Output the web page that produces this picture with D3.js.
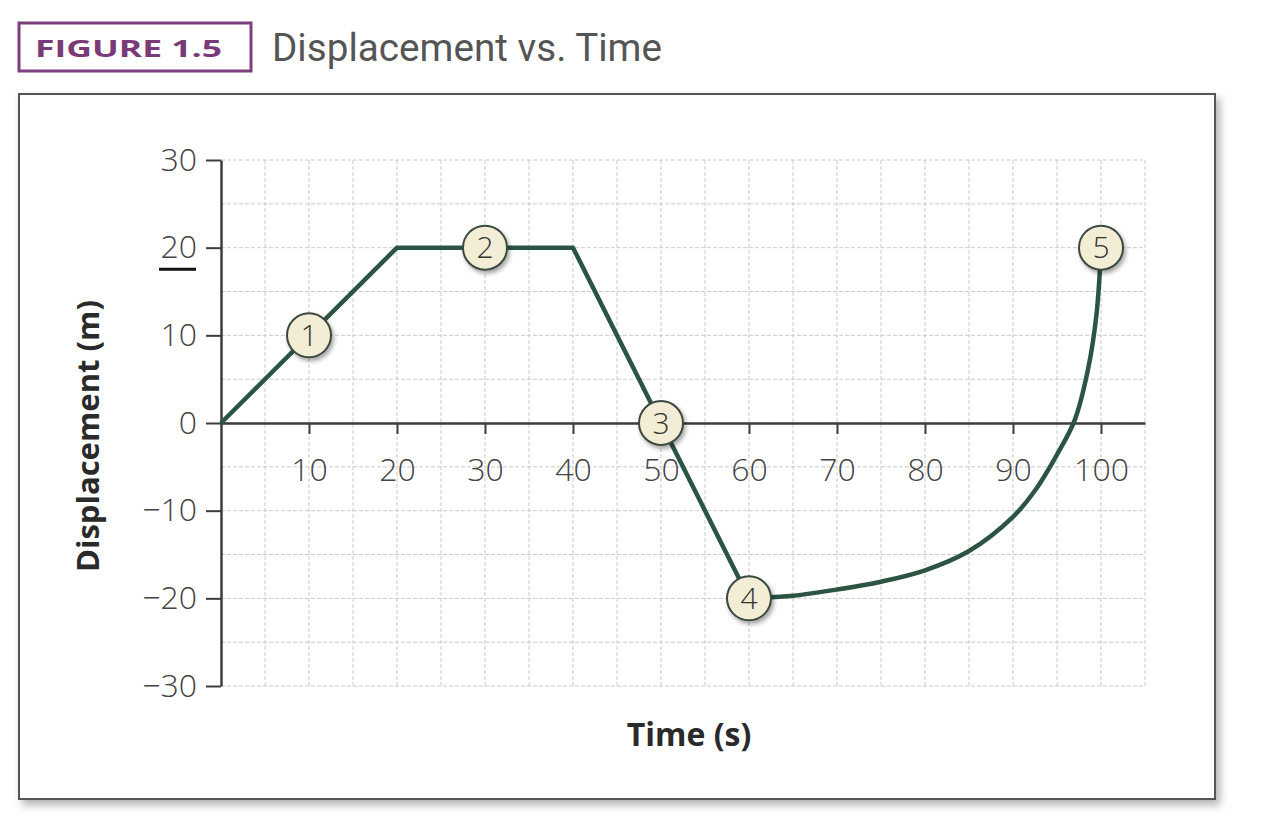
<!DOCTYPE html>
<html lang="en">
<head>
<meta charset="UTF-8">
<title>Displacement vs. Time</title>
<script src="https://cdn.jsdelivr.net/npm/d3@7"></script>
<style>
  body { margin: 0; background: #fff; }
  text { font-family: "Open Sans", "DejaVu Sans", sans-serif; }
</style>
</head>
<body>
<div id="chart"></div>
<script>
// straight segments of the graph
const segTimes = [0, 20, 40, 60];
const segDisp = [0, 20, 20, -20];
// curved part from point 4 to point 5
const curveTimes = [60, 65, 70, 75, 80, 85, 90, 92.5, 95, 97, 98.5, 99.5, 100];
const curveDisp = [-20, -19.7, -19, -18.1, -16.8, -14.6, -10.7, -7.7, -3.6, 0.3, 6, 12.5, 20];
// numbered markers
const markerTimes = [10, 30, 50, 60, 100];
const markerDisp = [10, 20, 0, -20, 20];
const markerLabels = ["1", "2", "3", "4", "5"];
// ticks
const xTicks = [10, 20, 30, 40, 50, 60, 70, 80, 90, 100];
const yTicks = [-30, -20, -10, 0, 10, 20, 30];

const W = 1262, H = 837;
const lineColor = '#2c5443';
const axisColor = '#3d3d3d';

const svg = d3.select('#chart').append('svg')
    .attr('width', W)
    .attr('height', H);

const defs = svg.append('defs');
defs.append('filter').attr('id', 'frameShadow')
    .attr('x', '-5%').attr('y', '-5%').attr('width', '110%').attr('height', '115%')
    .append('feDropShadow')
    .attr('dx', 4).attr('dy', 5).attr('stdDeviation', 4)
    .attr('flood-color', '#000').attr('flood-opacity', 0.3);
defs.append('filter').attr('id', 'dotShadow')
    .attr('x', '-50%').attr('y', '-50%').attr('width', '200%').attr('height', '200%')
    .append('feDropShadow')
    .attr('dx', 2).attr('dy', 3).attr('stdDeviation', 2)
    .attr('flood-color', '#000').attr('flood-opacity', 0.35);

// header
svg.append('rect')
    .attr('x', 19).attr('y', 23).attr('width', 232).attr('height', 48)
    .attr('fill', '#fff').attr('stroke', '#7d3f7c').attr('stroke-width', 3);
svg.append('text')
    .attr('x', 35).attr('y', 57)
    .attr('fill', '#7a3a77')
    .attr('textLength', 187).attr('lengthAdjust', 'spacingAndGlyphs')
    .style('font-size', '24px').style('font-weight', 'bold')
    .text('FIGURE 1.5');
svg.append('text')
    .attr('x', 272).attr('y', 61)
    .attr('fill', '#555')
    .attr('textLength', 390).attr('lengthAdjust', 'spacingAndGlyphs')
    .style('font-family', 'Roboto, sans-serif')
    .style('font-size', '38px')
    .text('Displacement vs. Time');

// frame
svg.append('rect')
    .attr('x', 19).attr('y', 94).attr('width', 1196).attr('height', 705)
    .attr('fill', '#fff').attr('stroke', '#555').attr('stroke-width', 2)
    .attr('filter', 'url(#frameShadow)');

const x = d3.scaleLinear().domain([0, 105]).range([221, 1145]);
const y = d3.scaleLinear().domain([-30, 30]).range([686, 160]);

// grid every 5 units
const grid = svg.append('g')
    .attr('stroke', '#c9cccb').attr('stroke-width', 1)
    .attr('stroke-dasharray', '4,2');
grid.selectAll('.gx').data(d3.range(5, 106, 5)).enter().append('line')
    .attr('x1', d => x(d)).attr('x2', d => x(d))
    .attr('y1', y(30)).attr('y2', y(-30));
grid.selectAll('.gy').data(d3.range(-30, 31, 5)).enter().append('line')
    .attr('x1', x(0)).attr('x2', x(105))
    .attr('y1', d => y(d)).attr('y2', d => y(d));

const tickFont = sel => sel
    .attr('fill', '#444')
    .style('font-size', '32px').style('font-weight', 300)
    .style('font-family', '"Open Sans", sans-serif');

// axes
const xAxis = d3.axisBottom(x).tickValues(xTicks).tickSize(11).tickSizeOuter(0).tickPadding(24);
const gx = svg.append('g')
    .attr('transform', `translate(0, ${y(0)})`)
    .call(xAxis);
gx.select('.domain').attr('stroke', axisColor).attr('stroke-width', 2.5);
gx.selectAll('.tick line').attr('stroke', axisColor).attr('stroke-width', 2);
gx.selectAll('.tick text').call(tickFont);

const yAxis = d3.axisLeft(y).tickValues(yTicks).tickSize(15).tickSizeOuter(0).tickPadding(9);
const gy = svg.append('g')
    .attr('transform', `translate(${x(0)}, 0)`)
    .call(yAxis);
gy.select('.domain').attr('stroke', axisColor).attr('stroke-width', 2.5);
gy.selectAll('.tick line').attr('stroke', axisColor).attr('stroke-width', 2);
gy.selectAll('.tick text').call(tickFont);

// underline under the 20 label
gy.selectAll('.tick').filter(d => d === 20)
    .append('line')
    .attr('class', 'underline')
    .attr('x1', -62).attr('x2', -25)
    .attr('y1', 21).attr('y2', 21)
    .attr('stroke', '#111').attr('stroke-width', 3);

// axis titles
svg.append('text')
    .attr('transform', `translate(99, ${y(0) + 13}) rotate(-90)`)
    .attr('text-anchor', 'middle')
    .attr('fill', '#2a2a2a')
    .style('font-size', '31px').style('font-weight', 'bold')
    .text('Displacement (m)');
svg.append('text')
    .attr('x', 689).attr('y', 746)
    .attr('text-anchor', 'middle')
    .attr('fill', '#2a2a2a')
    .style('font-size', '32px').style('font-weight', 'bold')
    .text('Time (s)');

// graph line
const segData = segTimes.map((t, i) => [t, segDisp[i]]);
const curveData = curveTimes.map((t, i) => [t, curveDisp[i]]);

svg.append('path')
    .datum(segData)
    .attr('fill', 'none')
    .attr('stroke', lineColor).attr('stroke-width', 4.5)
    .attr('stroke-linejoin', 'round')
    .attr('d', d3.line().x(d => x(d[0])).y(d => y(d[1])));

svg.append('path')
    .datum(curveData)
    .attr('fill', 'none')
    .attr('stroke', lineColor).attr('stroke-width', 4.5)
    .attr('d', d3.line().x(d => x(d[0])).y(d => y(d[1])).curve(d3.curveCatmullRom.alpha(0.5)));

// numbered markers
const markers = svg.selectAll('.marker')
    .data(markerTimes.map((t, i) => ({ t: t, d: markerDisp[i], label: markerLabels[i] })))
    .enter().append('g')
    .attr('class', 'marker')
    .attr('transform', d => `translate(${x(d.t)}, ${y(d.d)})`);
markers.append('circle')
    .attr('r', 22)
    .attr('fill', '#f3edd5')
    .attr('stroke', '#3b4a40').attr('stroke-width', 2)
    .attr('filter', 'url(#dotShadow)');
markers.append('text')
    .attr('text-anchor', 'middle')
    .attr('dy', '0.36em')
    .attr('fill', '#333')
    .style('font-size', '30px').style('font-weight', 300)
    .text(d => d.label);
</script>
</body>
</html>
